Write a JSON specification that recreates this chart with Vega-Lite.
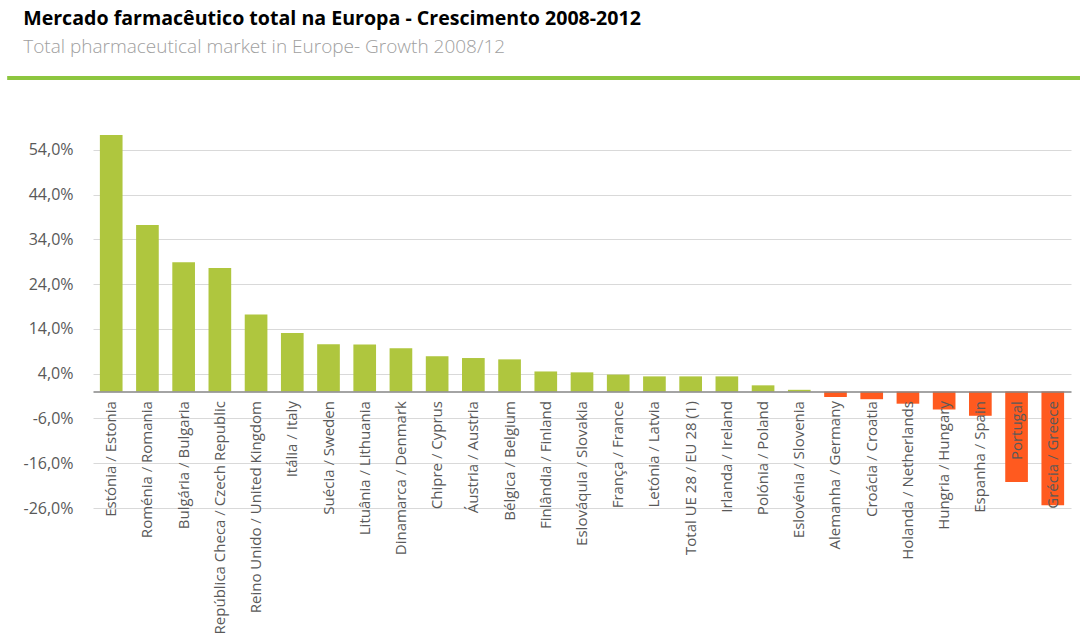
{
  "$schema": "https://vega.github.io/schema/vega-lite/v6.json",
  "background": "white",
  "padding": {"left": 5, "top": 9, "right": 0, "bottom": 0},
  "title": {
    "text": "Mercado farmacêutico total na Europa - Crescimento 2008-2012",
    "subtitle": "Total pharmaceutical market in Europe- Growth 2008/12",
    "anchor": "start",
    "dx": 18,
    "font": "Open Sans",
    "fontSize": 19.6,
    "fontWeight": "bold",
    "color": "#000000",
    "subtitleFont": "Open Sans",
    "subtitleFontSize": 19,
    "subtitleColor": "#a0a0a0",
    "subtitleFontWeight": 300,
    "subtitlePadding": 8,
    "offset": 16
  },
  "spacing": 43,
  "vconcat": [
    {
      "width": 987,
      "height": 4,
      "data": {"values": [{}]},
      "mark": {"type": "rule", "color": "#8dc63f", "strokeWidth": 4},
      "encoding": {
        "x": {"datum": 0, "type": "quantitative", "scale": {"domain": [0.08, 1], "zero": false, "nice": false}, "axis": null},
        "x2": {"datum": 1},
        "y": {"datum": 0, "type": "quantitative", "scale": {"domain": [0, 1]}, "axis": null}
      }
    },
    {
      "width": 978,
      "height": 385,
      "data": {
        "values": [
          {"country": "Estónia / Estonia", "growth": 57.3},
          {"country": "Roménia / Romania", "growth": 37.2},
          {"country": "Bulgária / Bulgaria", "growth": 28.9},
          {"country": "República Checa / Czech Republic", "growth": 27.6},
          {"country": "Reino Unido / United Kingdom", "growth": 17.2},
          {"country": "Itália / Italy", "growth": 13.1},
          {"country": "Suécia / Sweden", "growth": 10.6},
          {"country": "Lituânia / Lithuania", "growth": 10.5},
          {"country": "Dinamarca / Denmark", "growth": 9.7},
          {"country": "Chipre / Cyprus", "growth": 7.9},
          {"country": "Áustria / Austria", "growth": 7.5},
          {"country": "Bélgica / Belgium", "growth": 7.2},
          {"country": "Finlândia / Finland", "growth": 4.5},
          {"country": "Eslováquia / Slovakia", "growth": 4.3},
          {"country": "França / France", "growth": 3.8},
          {"country": "Letónia / Latvia", "growth": 3.4},
          {"country": "Total UE 28 / EU 28 (1)", "growth": 3.4},
          {"country": "Irlanda / Ireland", "growth": 3.4},
          {"country": "Polónia / Poland", "growth": 1.4},
          {"country": "Eslovénia / Slovenia", "growth": 0.4},
          {"country": "Alemanha / Germany", "growth": -1.2},
          {"country": "Croácia / Croatia", "growth": -1.7},
          {"country": "Holanda / Netherlands", "growth": -2.7},
          {"country": "Hungria / Hungary", "growth": -4.0},
          {"country": "Espanha / Spain", "growth": -5.4},
          {"country": "Portugal", "growth": -20.2},
          {"country": "Grécia / Greece", "growth": -25.4}
        ]
      },
      "mark": {"type": "bar"},
      "encoding": {
        "x": {
          "field": "country",
          "type": "nominal",
          "sort": null,
          "scale": {"paddingInner": 0.374, "paddingOuter": 0.19},
          "axis": {
            "title": null,
            "orient": "bottom",
            "offset": -116.4,
            "labelAngle": -90,
            "labelAlign": "right",
            "labelBaseline": "middle",
            "labelPadding": 9,
            "ticks": false,
            "domainColor": "#868686",
            "domainWidth": 1.5,
            "labelFont": "Open Sans",
            "labelFontSize": 15,
            "labelColor": "#595959",
            "labelLimit": 400,
            "labelOverlap": false,
            "zindex": 1
          }
        },
        "y": {
          "field": "growth",
          "type": "quantitative",
          "scale": {"domain": [-26, 60], "nice": false},
          "axis": {
            "title": null,
            "values": [-26, -16, -6, 4, 14, 24, 34, 44, 54],
            "grid": true,
            "gridColor": "#d9d9d9",
            "gridWidth": 1,
            "domain": false,
            "ticks": false,
            "labelPadding": 20,
            "minExtent": 85,
            "labelFont": "Open Sans",
            "labelFontSize": 16,
            "labelColor": "#595959",
            "labelExpr": "replace(replace(format(datum.value, '.1f'), '.', ','), '−', '-') + '%'"
          }
        },
        "color": {
          "condition": {"test": "datum.growth < 0", "value": "#ff5a1f"},
          "value": "#afc63e"
        }
      }
    }
  ],
  "config": {"view": {"stroke": null}, "font": "Open Sans"}
}
